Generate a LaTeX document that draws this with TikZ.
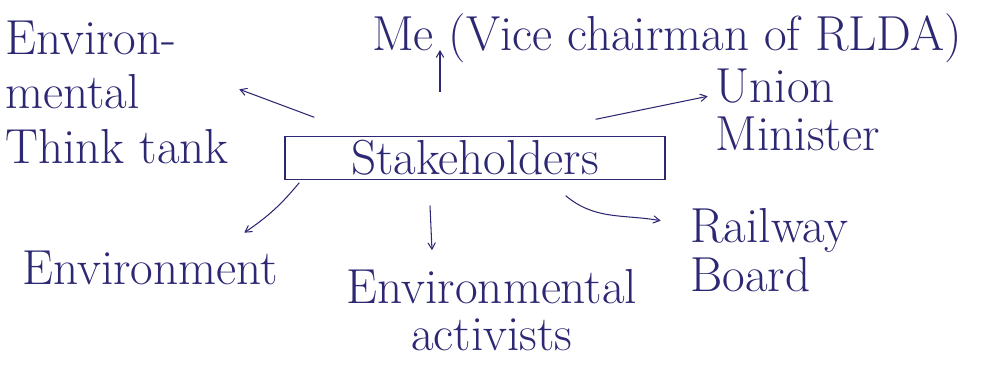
\documentclass[tikz,border=0pt]{standalone}
\usepackage{xcolor}
\usepackage{tikz}
\usetikzlibrary{
    arrows
}
\definecolor{ink}{RGB}{45,40,115}

\begin{document}
\begin{tikzpicture}[->,>=angle 60,semithick,color=ink,font=\fontsize{28}{31}\selectfont]
    \tikzstyle{every node}=[inner sep=0pt, text=ink]
    \useasboundingbox (0,0) rectangle (19.96,7.3);
    \node[draw, thick, minimum width=7.6cm, minimum height=0.86cm] (s) at (9.5, 4.14){Stakeholders};
    \node (me) at (13.34, 6.54){Me (Vice chairman of RLDA)};
    \node[anchor=west, align=left] (tt) at (0.1, 5.46){Environ-\\mental\\Think tank};
    \node[anchor=west, align=left] (um) at (14.3, 5.1){Union\\[-4pt]Minister};
    \node (env) at (3.0, 1.94){Environment};
    \node[align=center] (act) at (9.84, 1.1){Environmental\\[-4pt]activists};
    \node[anchor=west, align=left] (rb) at (13.8, 2.3){Railway\\[-3pt]Board};
    \path ([shift={(-0.7,1.32)}]s.center) edge ([shift={(-0.7,2.16)}]s.center);
    \path ([shift={(0.6,0.37)}]s.north west) edge ([shift={(-0.9,0.93)}]s.north west);
    \path ([shift={(-1.4,0.33)}]s.north east) edge ([shift={(0.84,0.79)}]s.north east);
    \path ([shift={(0.3,-0.05)}]s.south west) edge [bend left=8] ([shift={(-0.8,-1.05)}]s.south west);
    \path ([shift={(-0.9,-0.51)}]s.south) edge ([shift={(-0.86,-1.4)}]s.south);
    \path ([shift={(-2.0,-0.31)}]s.south east) edge [out=-40, in=170] ([shift={(-0.1,-0.81)}]s.south east);
\end{tikzpicture}
\end{document}
